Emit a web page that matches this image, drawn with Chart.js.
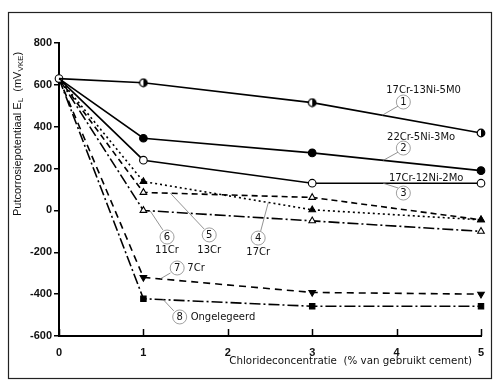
<!DOCTYPE html>
<html>
<head>
<meta charset="utf-8">
<script src="https://cdn.jsdelivr.net/npm/chart.js@4"></script>
<style>
  html, body { margin: 0; padding: 0; background: #fff; }
  #wrap { width: 500px; height: 387px; }
</style>
</head>
<body>
<div id="wrap"><canvas id="grafiek" width="500" height="387"></canvas></div>
<script>
// chloride % (x) en putcorrosiepotentiaal in mV (y)
var chloride = [0, 1, 3, 5];
var cr17ni13mo5 = [630, 610, 515, 370];
var cr22ni5mo3 = [630, 345, 275, 190];
var cr17ni12mo2 = [630, 240, 130, 130];
var cr17 = [630, 138, 3, -45];
var cr13 = [630, 86, 62, -45];
var cr11 = [630, 0, -50, -100];
var cr7 = [630, -320, -392, -400];
var ongelegeerd = [630, -422, -458, -458];

var xTicks = [0, 1, 2, 3, 4, 5];

// labels bij de lijnen: [tekst, nummer, tekst x, tekst y, cirkel x, cirkel y, lijn van x,y naar x,y, uitlijning]
var labels = [
    ['17Cr-13Ni-5M0', '1', 4.32, 575, 4.08, 518, 4.02, 499, 3.83, 455, 'center'],
    ['22Cr-5Ni-3Mo', '2', 4.29, 351, 4.08, 298, 4.02, 279, 3.84, 239, 'center'],
    ['17Cr-12Ni-2Mo', '3', 4.35, 155, 4.08, 83, 4.02, 107, 3.84, 130, 'center'],
    ['17Cr', '4', 2.36, -199, 2.36, -132, 2.39, -98, 2.48, 38, 'center'],
    ['13Cr', '5', 1.78, -189, 1.78, -117, 1.72, -89, 1.32, 82, 'center'],
    ['11Cr', '6', 1.28, -189, 1.28, -127, 1.23, -93, 1.08, -2, 'center'],
    ['7Cr', '7', 1.52, -275, 1.40, -275, 1.32, -299, 1.20, -327, 'left'],
    ['Ongelegeerd', '8', 1.56, -509, 1.43, -509, 1.36, -480, 1.23, -424, 'left']
];

function halfCircle() {
    var c = document.createElement('canvas');
    c.width = 10; c.height = 10;
    var g = c.getContext('2d');
    g.beginPath(); g.arc(5, 5, 3.8, 0, Math.PI * 2);
    g.fillStyle = '#fff'; g.fill();
    g.beginPath(); g.arc(5, 5, 3.8, -Math.PI / 2, Math.PI / 2);
    g.fillStyle = '#000'; g.fill();
    g.beginPath(); g.arc(5, 5, 3.8, 0, Math.PI * 2);
    g.lineWidth = 1.2; g.strokeStyle = '#000'; g.stroke();
    return c;
}

function punten(waarden) {
    return waarden.map(function (v, i) { return { x: chloride[i], y: v }; });
}

function reeks(waarden, stijl, vulling, streep, r0, rotatie) {
    return {
        data: punten(waarden),
        borderColor: '#000',
        borderWidth: 1.6,
        borderDash: streep,
        pointStyle: stijl,
        pointRotation: rotatie || 0,
        pointBackgroundColor: vulling,
        pointBorderColor: '#000',
        pointBorderWidth: 1.1,
        pointRadius: [r0, 3.8, 3.8, 3.8],
        tension: 0,
        fill: false,
        clip: false
    };
}

var half = halfCircle();

var tekenExtra = {
    id: 'tekenExtra',
    afterDraw: function (chart) {
        var ctx = chart.ctx;
        var xs = chart.scales.x, ys = chart.scales.y, a = chart.chartArea;
        ctx.save();

        // kader
        ctx.strokeStyle = '#222';
        ctx.lineWidth = 1.2;
        ctx.strokeRect(8.5, 12.5, 483, 366);

        // x-ticks naar binnen
        ctx.strokeStyle = '#000';
        ctx.lineWidth = 1.5;
        xTicks.forEach(function (v) {
            var px = Math.round(xs.getPixelForValue(v)) + 0.5;
            ctx.beginPath();
            ctx.moveTo(px, a.bottom);
            ctx.lineTo(px, a.bottom - 7);
            ctx.stroke();
        });

        // x-as titel
        ctx.fillStyle = '#111';
        ctx.font = '10.3px "DejaVu Sans"';
        ctx.textAlign = 'right';
        ctx.textBaseline = 'middle';
        ctx.fillText('Chlorideconcentratie  (% van gebruikt cement)', 472, 361);

        // y-as titel met subscripts
        ctx.translate(18, 134);
        ctx.rotate(-Math.PI / 2);
        var delen = [['Putcorrosiepotentiaal E', 0], ['L', 1], ['  (mV', 0], ['VKE', 1], [')', 0]];
        var groot = '11px "Liberation Sans"', klein = '8px "Liberation Sans"';
        var breedte = 0;
        delen.forEach(function (d) {
            ctx.font = d[1] ? klein : groot;
            breedte += ctx.measureText(d[0]).width;
        });
        var pos = -breedte / 2;
        ctx.textAlign = 'left';
        delen.forEach(function (d) {
            ctx.font = d[1] ? klein : groot;
            ctx.fillText(d[0], pos, d[1] ? 3 : 0);
            pos += ctx.measureText(d[0]).width;
        });
        ctx.setTransform(1, 0, 0, 1, 0, 0);

        // labels met omcirkelde nummers
        labels.forEach(function (l) {
            var tx = xs.getPixelForValue(l[2]), ty = ys.getPixelForValue(l[3]);
            var cx = xs.getPixelForValue(l[4]), cy = ys.getPixelForValue(l[5]);
            ctx.strokeStyle = '#777';
            ctx.lineWidth = 0.8;
            ctx.beginPath();
            ctx.moveTo(xs.getPixelForValue(l[6]), ys.getPixelForValue(l[7]));
            ctx.lineTo(xs.getPixelForValue(l[8]), ys.getPixelForValue(l[9]));
            ctx.stroke();
            ctx.beginPath();
            ctx.arc(cx, cy, 7, 0, Math.PI * 2);
            ctx.fillStyle = '#fff';
            ctx.fill();
            ctx.strokeStyle = '#888';
            ctx.stroke();
            ctx.fillStyle = '#111';
            ctx.font = '10px "DejaVu Sans"';
            ctx.textAlign = 'center';
            ctx.textBaseline = 'middle';
            ctx.fillText(l[1], cx, cy + 0.5);
            ctx.textAlign = l[10];
            ctx.fillText(l[0], tx, ty);
        });
        ctx.restore();
    }
};

var grafiek = new Chart(document.getElementById('grafiek').getContext('2d'), {
    type: 'line',
    data: {
        datasets: [
            reeks(cr17ni13mo5, half, '#000', [], 0),
            reeks(cr22ni5mo3, 'circle', '#000', [], 0),
            reeks(cr17ni12mo2, 'circle', '#fff', [], 3.8),
            reeks(cr17, 'triangle', '#000', [2, 3], 0),
            reeks(cr13, 'triangle', '#fff', [6, 4], 0),
            reeks(cr11, 'triangle', '#fff', [11, 3, 2, 3], 0),
            reeks(cr7, 'triangle', '#000', [7, 5], 0, 180),
            reeks(ongelegeerd, 'rect', '#000', [11, 3, 2, 3], 0)
        ]
    },
    options: {
        responsive: false,
        animation: false,
        layout: { padding: { left: 0, right: 19, top: 43, bottom: 0 } },
        plugins: {
            legend: { display: false },
            tooltip: { enabled: false }
        },
        scales: {
            x: {
                type: 'linear',
                min: 0,
                max: 5,
                afterFit: function (s) { s.height = 51; },
                grid: { display: false },
                border: { display: true, color: '#000', width: 2 },
                ticks: {
                    stepSize: 1,
                    color: '#111',
                    padding: 2,
                    font: { family: 'Liberation Sans', size: 11, weight: 'bold' }
                }
            },
            y: {
                min: -600,
                max: 800,
                afterFit: function (s) { s.width = 59; },
                grid: { drawOnChartArea: false, color: '#000', tickLength: 5, lineWidth: 1.5 },
                border: { display: true, color: '#000', width: 2 },
                ticks: {
                    stepSize: 200,
                    color: '#111',
                    padding: 2,
                    font: { family: 'Liberation Sans', size: 11, weight: 'bold' }
                }
            }
        }
    },
    plugins: [tekenExtra]
});
</script>
</body>
</html>
